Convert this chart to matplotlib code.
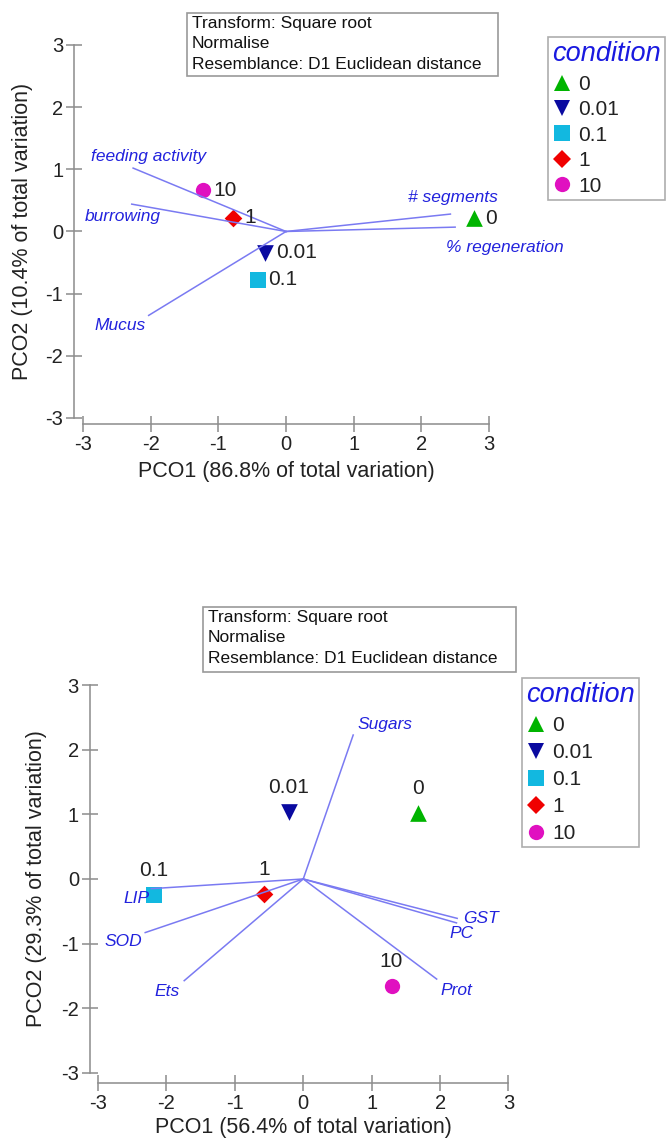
import matplotlib
matplotlib.use('Agg')
import matplotlib.pyplot as plt
from matplotlib.lines import Line2D
from matplotlib.patches import Rectangle

plt.rcParams['font.family'] = ['Liberation Sans', 'DejaVu Sans']
plt.rcParams['axes.unicode_minus'] = False

W, H = 667, 1140

conditions = ['0', '0.01', '0.1', '1', '10']
markers = ['^', 'v', 's', 'D', 'o']
colors = ['#00B400', '#0A0AA0', '#12B8E0', '#F00000', '#E010C0']
msizes = [12, 12, 11, 9, 11]

box_text = 'Transform: Square root\nNormalise\nResemblance: D1 Euclidean distance'

# top panel - PCO scores + vectors
top_x = [2.78, -0.31, -0.42, -0.78, -1.23]
top_y = [0.21, -0.34, -0.78, 0.22, 0.66]
top_vec_names = ['feeding activity', 'burrowing', 'Mucus', '# segments', '% regeneration']
top_vec_x = [-2.26, -2.28, -2.03, 2.43, 2.50]
top_vec_y = [1.02, 0.44, -1.35, 0.28, 0.07]
top_xlabel = 'PCO1 (86.8% of total variation)'
top_ylabel = 'PCO2 (10.4% of total variation)'

# bottom panel
bot_x = [1.67, -0.21, -2.18, -0.57, 1.29]
bot_y = [1.02, 1.03, -0.25, -0.24, -1.66]
bot_vec_names = ['Sugars', 'LIP', 'SOD', 'Ets', 'GST', 'PC', 'Prot']
bot_vec_x = [0.73, -2.22, -2.31, -1.74, 2.25, 2.24, 1.95]
bot_vec_y = [2.23, -0.15, -0.83, -1.575, -0.61, -0.68, -1.55]
bot_xlabel = 'PCO1 (56.4% of total variation)'
bot_ylabel = 'PCO2 (29.3% of total variation)'

ticks = [-3, -2, -1, 0, 1, 2, 3]

# label placement (pixels offset from vector end)
top_vec_off = [(15, 12, 'center'), (-9, -12, 'center'), (-3, -10, 'right'),
               (3, 17, 'center'), (50, -20, 'center')]
bot_vec_off = [(4, 11, 'left'), (-2, -10, 'right'), (-3, -9, 'right'), (-4, -11, 'right'),
               (6, 0, 'left'), (-7, -11, 'left'), (4, -11, 'left')]

vec_color = '#7A7AF2'
lab_color = '#2222DD'
axis_color = '#8C8C8C'

fig = plt.figure(figsize=(W / 100, H / 100), dpi=100)


def make_panel(box, xlim, ylim, px, py, vnames, vx, vy, voff, xl, yl, xl_pos, yl_pos, above):
    left, right, top, bottom = box
    ax = fig.add_axes([left / W, 1 - bottom / H, (right - left) / W, (bottom - top) / H])
    ax.set_xlim(*xlim)
    ax.set_ylim(*ylim)
    for s in ['top', 'right']:
        ax.spines[s].set_visible(False)
    for s in ['left', 'bottom']:
        ax.spines[s].set_bounds(-3, 3)
        ax.spines[s].set_color(axis_color)
        ax.spines[s].set_linewidth(1.1)
    ax.set_xticks(ticks)
    ax.set_yticks(ticks)
    ax.tick_params(direction='inout', length=12, width=1.1, color=axis_color,
                   labelsize=14.5, labelcolor='#222222', pad=2)

    # vectors
    for i in range(len(vnames)):
        ax.plot([0, vx[i]], [0, vy[i]], color=vec_color, lw=1.1, zorder=3)
        dx, dy, ha = voff[i]
        ax.annotate(vnames[i], (vx[i], vy[i]), xytext=(dx, dy), textcoords='offset pixels',
                    ha=ha, va='center', color=lab_color, fontsize=12.5, style='italic')

    # samples
    for i in range(len(conditions)):
        ax.scatter(px[i], py[i], marker=markers[i], s=msizes[i] ** 2, c=colors[i],
                   linewidths=0, zorder=2, clip_on=False)
        if above:
            ax.annotate(conditions[i], (px[i], py[i]), xytext=(0, 25), textcoords='offset pixels',
                        ha='center', va='center', fontsize=15, color='#222222')
        else:
            ax.annotate(conditions[i], (px[i], py[i]), xytext=(11, 0), textcoords='offset pixels',
                        ha='left', va='center', fontsize=15, color='#222222')

    ax.set_xlabel(xl, fontsize=15.5, color='#222222')
    ax.set_ylabel(yl, fontsize=15.5, color='#222222')
    ax.xaxis.label.set_va('center')
    ax.yaxis.label.set_va('center')
    ax.xaxis.set_label_coords(xl_pos[0] / W, 1 - xl_pos[1] / H, transform=fig.transFigure)
    ax.yaxis.set_label_coords(yl_pos[0] / W, 1 - yl_pos[1] / H, transform=fig.transFigure)
    return ax


def add_box_and_legend(frame, leg_xy, spacing):
    x0, y0, x1, y1 = frame
    fig.patches.append(Rectangle((x0 / W, 1 - y1 / H), (x1 - x0) / W, (y1 - y0) / H,
                                 transform=fig.transFigure, fc='white', ec='#999999', lw=1.2))
    fig.text((x0 + 5) / W, 1 - (y0 + 3) / H, box_text, ha='left', va='top',
             fontsize=12.5, color='#111111', linespacing=1.45)
    handles = [Line2D([], [], marker=markers[i], color=colors[i], linestyle='none',
                      markersize=msizes[i], markeredgewidth=0) for i in range(len(conditions))]
    leg = fig.legend(handles, conditions, loc='upper left',
                     bbox_to_anchor=(leg_xy[0] / W, 1 - leg_xy[1] / H),
                     title='condition', fontsize=15, title_fontsize=19.5,
                     frameon=True, fancybox=False, edgecolor='#999999',
                     handlelength=0.9, handletextpad=0.35, labelspacing=spacing,
                     borderpad=0.2, borderaxespad=0)
    leg.get_frame().set_linewidth(1.2)
    leg.get_title().set_color('#1A1AE0')
    leg.get_title().set_style('italic')
    leg._legend_box.align = 'left'
    leg._legend_box.sep = 5.5
    for t in leg.get_texts():
        t.set_color('#222222')


make_panel((74.3, 497.7, 45, 424), (-3.129, 3.129), (-3.097, 3),
           top_x, top_y, top_vec_names, top_vec_x, top_vec_y, top_vec_off,
           top_xlabel, top_ylabel, (286, 472), (23, 231), above=False)
add_box_and_legend((187, 13, 498, 76), (548, 37), 0.31)

make_panel((90, 516.5, 685.3, 1083), (-3.117, 3.117), (-3.16, 3),
           bot_x, bot_y, bot_vec_names, bot_vec_x, bot_vec_y, bot_vec_off,
           bot_xlabel, bot_ylabel, (303, 1128), (37, 879), above=True)
add_box_and_legend((203, 607, 516, 672), (522, 678), 0.39)

fig.savefig('out.png', dpi=100)
